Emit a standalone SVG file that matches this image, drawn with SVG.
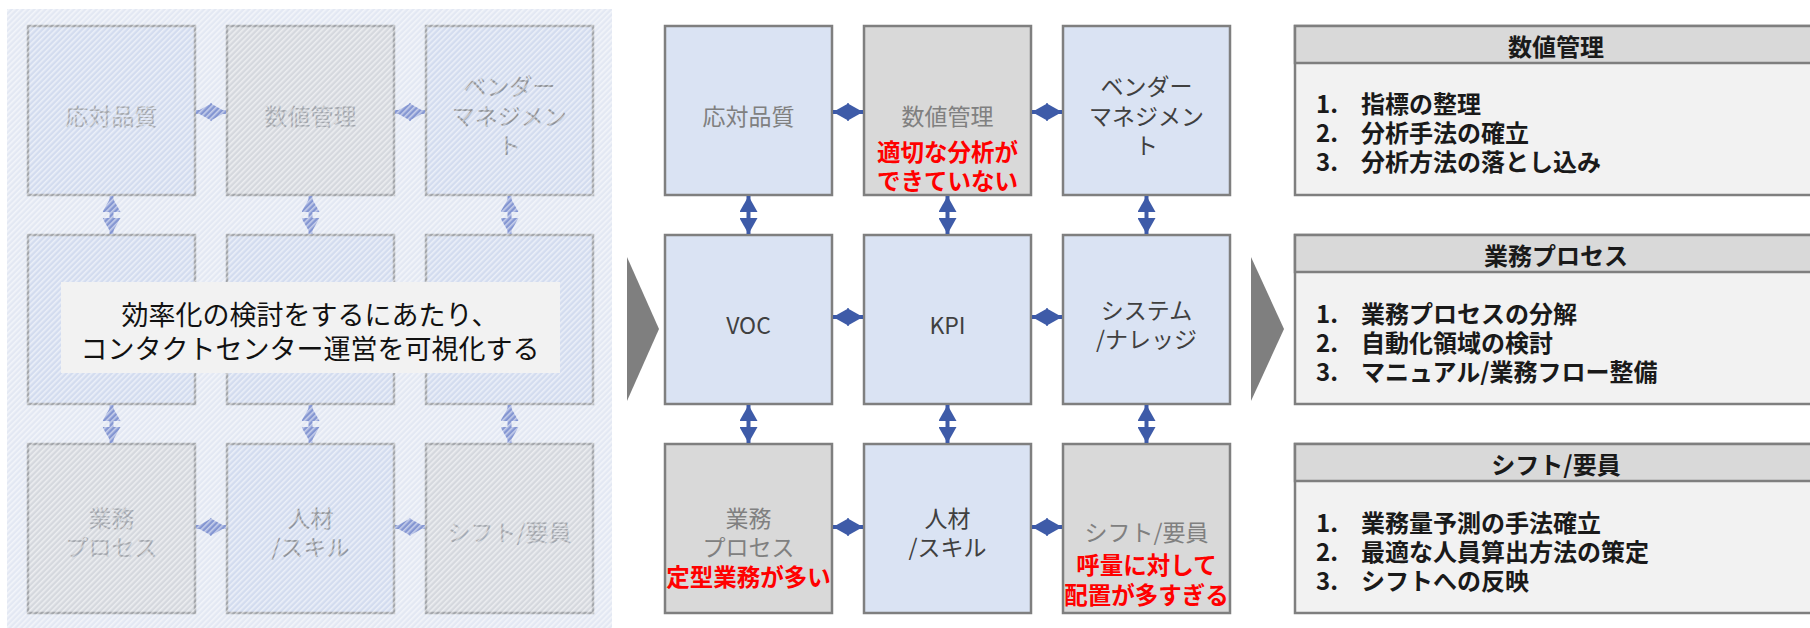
<svg xmlns="http://www.w3.org/2000/svg" width="1810" height="628" viewBox="0 0 1810 628">
<defs>
<style>
text{font-family:"Noto Sans CJK JP","Noto Sans",sans-serif;dominant-baseline:central;text-anchor:middle}
tspan{dominant-baseline:central}
.box{stroke:#7f7f7f;stroke-width:2.5}
.blue{fill:#dae3f3}
.gray{fill:#d9d9d9}
.lbl{font-size:23px;fill:#404040}
.dim{font-size:23px;fill:#808080}
.red{font-size:23.5px;fill:#ff0000;font-weight:700}
.lbox{stroke:#a3a6ab;stroke-width:2.5}
.lblue{fill:#d3dcef}
.lgray{fill:#d5d8de}
.ltxt{font-size:23px;fill:#a2a6ad}
.ltxt2{font-size:23px;fill:#8f939a}
.conn{stroke:#3e5ba8;stroke-width:4;fill:none;marker-start:url(#ah);marker-end:url(#ah)}
.lconn{stroke:#8496d2;stroke-width:4;fill:none;marker-start:url(#ahl);marker-end:url(#ahl)}
.hdr{fill:#d9d9d9;stroke:#7f7f7f;stroke-width:2.5}
.bdy{fill:#f2f2f2;stroke:#7f7f7f;stroke-width:2.5}
.htxt{font-size:24px;font-weight:700;fill:#1a1a1a}
.li{font-size:24px;font-weight:700;fill:#1a1a1a;text-anchor:start}
.chev{fill:#7f7f7f}
</style>
<marker id="ah" viewBox="0 0 16 18" refX="16" refY="9" markerWidth="16" markerHeight="18" markerUnits="userSpaceOnUse" orient="auto-start-reverse"><path d="M0,0 L16,9 L0,18 z" fill="#3e5ba8"/></marker>
<marker id="ahl" viewBox="0 0 16 18" refX="16" refY="9" markerWidth="16" markerHeight="18" markerUnits="userSpaceOnUse" orient="auto-start-reverse"><path d="M0,0 L16,9 L0,18 z" fill="#8496d2"/></marker>
<pattern id="hatch" width="4" height="4" patternUnits="userSpaceOnUse" patternTransform="rotate(45)"><rect x="0" y="0" width="1.6" height="4" fill="#ffffff"/></pattern>
</defs>

<!-- left faded panel -->
<g id="left-panel">
<rect x="7" y="9" width="605" height="619" fill="#e3e8f3"/>
<g id="l-quality"><rect class="lbox lblue" x="28" y="26" width="167" height="169"/><text class="ltxt" x="111.5" y="115">応対品質</text></g>
<g id="l-numbers"><rect class="lbox lgray" x="227" y="26" width="167" height="169"/><text class="ltxt" x="310.5" y="115">数値管理</text></g>
<g id="l-vendor"><rect class="lbox lblue" x="426" y="26" width="167" height="169"/><text class="ltxt2"><tspan x="509.5" y="85">ベンダー</tspan><tspan x="509.5" y="115">マネジメン</tspan><tspan x="509.5" y="144">ト</tspan></text></g>
<g id="l-voc"><rect class="lbox lblue" x="28" y="235" width="167" height="169"/></g>
<g id="l-kpi"><rect class="lbox lblue" x="227" y="235" width="167" height="169"/></g>
<g id="l-system"><rect class="lbox lblue" x="426" y="235" width="167" height="169"/></g>
<g id="l-process"><rect class="lbox lgray" x="28" y="444" width="167" height="169"/><text class="ltxt"><tspan x="111.5" y="517">業務</tspan><tspan x="111.5" y="546">プロセス</tspan></text></g>
<g id="l-skill"><rect class="lbox lblue" x="227" y="444" width="167" height="169"/><text class="ltxt2"><tspan x="310.5" y="517">人材</tspan><tspan x="310.5" y="546">/スキル</tspan></text></g>
<g id="l-shift"><rect class="lbox lgray" x="426" y="444" width="167" height="169"/><text class="ltxt" x="509.5" y="531">シフト/要員</text></g>
<g id="l-connectors">
<line class="lconn" x1="196" y1="112" x2="226" y2="112"/>
<line class="lconn" x1="395" y1="112" x2="425" y2="112"/>
<line class="lconn" x1="196" y1="527" x2="226" y2="527"/>
<line class="lconn" x1="395" y1="527" x2="425" y2="527"/>
<line class="lconn" x1="111.5" y1="196" x2="111.5" y2="234"/>
<line class="lconn" x1="310.5" y1="196" x2="310.5" y2="234"/>
<line class="lconn" x1="509.5" y1="196" x2="509.5" y2="234"/>
<line class="lconn" x1="111.5" y1="405" x2="111.5" y2="443"/>
<line class="lconn" x1="310.5" y1="405" x2="310.5" y2="443"/>
<line class="lconn" x1="509.5" y1="405" x2="509.5" y2="443"/>
</g>
<rect x="7" y="9" width="605" height="619" fill="url(#hatch)" opacity="0.55"/>
<g id="l-overlay"><rect x="61" y="282" width="499" height="91" fill="#f2f2f2"/>
<text style="font-size:27px;fill:#111"><tspan x="310" y="313">効率化の検討をするにあたり、</tspan><tspan x="310" y="347">コンタクトセンター運営を可視化する</tspan></text></g>
</g>

<polygon id="chevron-1" class="chev" points="627,257 659,329 627,401"/>

<!-- middle panel -->
<g id="n-quality"><rect class="box blue" x="665" y="26" width="167" height="169"/><text class="dim" x="748.5" y="115">応対品質</text></g>
<g id="n-numbers"><rect class="box gray" x="864" y="26" width="167" height="169"/><text class="dim"><tspan x="947.5" y="115">数値管理</tspan><tspan class="red" x="947.5" y="151">適切な分析が</tspan><tspan class="red" x="947.5" y="180">できていない</tspan></text></g>
<g id="n-vendor"><rect class="box blue" x="1063" y="26" width="167" height="169"/><text class="lbl"><tspan x="1146.5" y="85">ベンダー</tspan><tspan x="1146.5" y="115">マネジメン</tspan><tspan x="1146.5" y="144">ト</tspan></text></g>
<g id="n-voc"><rect class="box blue" x="665" y="235" width="167" height="169"/><text class="lbl" x="748.5" y="324">VOC</text></g>
<g id="n-kpi"><rect class="box blue" x="864" y="235" width="167" height="169"/><text class="lbl" x="947.5" y="324">KPI</text></g>
<g id="n-system"><rect class="box blue" x="1063" y="235" width="167" height="169"/><text class="lbl"><tspan x="1146.5" y="309">システム</tspan><tspan x="1146.5" y="338">/ナレッジ</tspan></text></g>
<g id="n-process"><rect class="box gray" x="665" y="444" width="167" height="169"/><text class="dim"><tspan x="748.5" y="517">業務</tspan><tspan x="748.5" y="546">プロセス</tspan><tspan class="red" x="748.5" y="576">定型業務が多い</tspan></text></g>
<g id="n-skill"><rect class="box blue" x="864" y="444" width="167" height="169"/><text class="lbl"><tspan x="947.5" y="517">人材</tspan><tspan x="947.5" y="546">/スキル</tspan></text></g>
<g id="n-shift"><rect class="box gray" x="1063" y="444" width="167" height="169"/><text class="dim"><tspan x="1146.5" y="531">シフト/要員</tspan><tspan class="red" x="1146.5" y="564">呼量に対して</tspan><tspan class="red" x="1146.5" y="594">配置が多すぎる</tspan></text></g>

<g id="connectors">
<line class="conn" x1="833" y1="112" x2="863" y2="112"/>
<line class="conn" x1="1032" y1="112" x2="1062" y2="112"/>
<line class="conn" x1="833" y1="317" x2="863" y2="317"/>
<line class="conn" x1="1032" y1="317" x2="1062" y2="317"/>
<line class="conn" x1="833" y1="527" x2="863" y2="527"/>
<line class="conn" x1="1032" y1="527" x2="1062" y2="527"/>
<line class="conn" x1="748.5" y1="196" x2="748.5" y2="234"/>
<line class="conn" x1="947.5" y1="196" x2="947.5" y2="234"/>
<line class="conn" x1="1146.5" y1="196" x2="1146.5" y2="234"/>
<line class="conn" x1="748.5" y1="405" x2="748.5" y2="443"/>
<line class="conn" x1="947.5" y1="405" x2="947.5" y2="443"/>
<line class="conn" x1="1146.5" y1="405" x2="1146.5" y2="443"/>
</g>

<polygon id="chevron-2" class="chev" points="1251,257 1284,329 1251,401"/>

<!-- right panel -->
<g id="r-numbers">
<rect class="bdy" x="1295" y="26" width="530" height="169"/>
<rect class="hdr" x="1295" y="26" width="530" height="37"/>
<text class="htxt" x="1556" y="45">数値管理</text>
<text class="li"><tspan x="1316" y="102">1.</tspan><tspan x="1361" y="102">指標の整理</tspan><tspan x="1316" y="131">2.</tspan><tspan x="1361" y="131">分析手法の確立</tspan><tspan x="1316" y="160">3.</tspan><tspan x="1361" y="160">分析方法の落とし込み</tspan></text>
</g>
<g id="r-process">
<rect class="bdy" x="1295" y="235" width="530" height="169"/>
<rect class="hdr" x="1295" y="235" width="530" height="37"/>
<text class="htxt" x="1556" y="254">業務プロセス</text>
<text class="li"><tspan x="1316" y="312">1.</tspan><tspan x="1361" y="312">業務プロセスの分解</tspan><tspan x="1316" y="341">2.</tspan><tspan x="1361" y="341">自動化領域の検討</tspan><tspan x="1316" y="370">3.</tspan><tspan x="1361" y="370">マニュアル/業務フロー整備</tspan></text>
</g>
<g id="r-shift">
<rect class="bdy" x="1295" y="444" width="530" height="169"/>
<rect class="hdr" x="1295" y="444" width="530" height="37"/>
<text class="htxt" x="1556" y="463">シフト/要員</text>
<text class="li"><tspan x="1316" y="521">1.</tspan><tspan x="1361" y="521">業務量予測の手法確立</tspan><tspan x="1316" y="550">2.</tspan><tspan x="1361" y="550">最適な人員算出方法の策定</tspan><tspan x="1316" y="579">3.</tspan><tspan x="1361" y="579">シフトへの反映</tspan></text>
</g>
</svg>
